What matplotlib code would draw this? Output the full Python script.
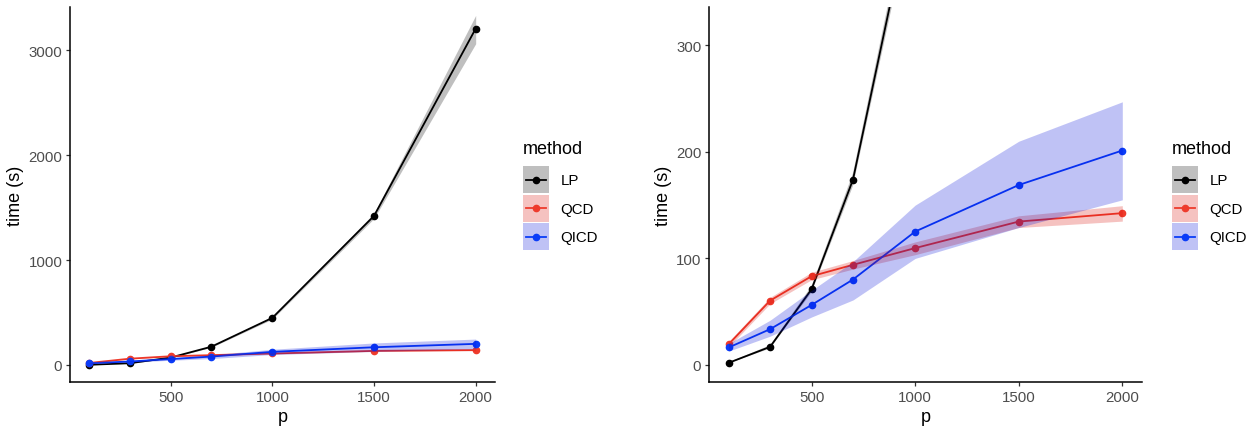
import matplotlib
matplotlib.use("Agg")
import matplotlib.pyplot as plt
from matplotlib.patches import Rectangle
from matplotlib.lines import Line2D
from matplotlib.legend_handler import HandlerBase

plt.rcParams["font.family"] = ["Liberation Sans", "DejaVu Sans"]

# dados
p = [100, 300, 500, 700, 1000, 1500, 2000]
methods = ["LP", "QCD", "QICD"]

lp = [2, 17, 71, 174, 449, 1420, 3204]
lp_lo = [1.5, 15.5, 68, 168, 437, 1395, 3060]
lp_hi = [2.5, 18.5, 74, 180, 461, 1445, 3330]

qcd = [19.5, 60.4, 83.3, 94, 109.7, 134.6, 142.5]
qcd_lo = [17, 57.5, 80, 90, 103.5, 129, 135]
qcd_hi = [22, 63.5, 87, 98, 115.5, 140, 149.5]

qicd = [16.4, 33.6, 56.3, 80.2, 125.2, 168.9, 201.3]
qicd_lo = [13, 27, 45, 61, 100, 129, 155]
qicd_hi = [20, 42, 70, 97, 150, 210, 247]

series = {
    "LP": (lp, lp_lo, lp_hi),
    "QCD": (qcd, qcd_lo, qcd_hi),
    "QICD": (qicd, qicd_lo, qicd_hi),
}
line_col = {"LP": "#000000", "QCD": "#EE3B2C", "QICD": "#0A3CF8"}
fill_col = {"LP": (0, 0, 0, 0.25), "QCD": (0.86, 0.05, 0.02, 0.25), "QICD": (0.0, 0.06, 0.85, 0.25)}

W, H = 1251, 427
fig = plt.figure(figsize=(W / 100, H / 100), dpi=100)

tick_fs = 10.8
title_fs = 13


def draw_panel(ax, ylim, yticks):
    for m in methods:
        y, lo, hi = series[m]
        ax.plot(p, y, color=line_col[m], lw=1.3, marker="o", ms=4.5, zorder=2)
    # fitas por cima das linhas, como no original
    for m in methods:
        y, lo, hi = series[m]
        ax.fill_between(p, lo, hi, color=fill_col[m], lw=0, zorder=3)
    ax.set_xlim(5, 2095)
    ax.set_ylim(*ylim)
    ax.set_xticks([500, 1000, 1500, 2000])
    ax.set_yticks(yticks)
    for s in ["top", "right"]:
        ax.spines[s].set_visible(False)
    for s in ["left", "bottom"]:
        ax.spines[s].set_linewidth(1.1)
    ax.tick_params(colors="#333333", labelcolor="#4D4D4D", labelsize=tick_fs,
                   length=3, width=0.9, pad=2.5)
    ax.set_xlabel("p", fontsize=title_fs, labelpad=3)
    ax.set_ylabel("time (s)", fontsize=title_fs, labelpad=3)


ax1 = fig.add_axes([70 / W, (H - 383) / H, 425 / W, 375 / H])
draw_panel(ax1, (-162, 3410), [0, 1000, 2000, 3000])

ax2 = fig.add_axes([709 / W, (H - 383) / H, 433 / W, 375 / H])
draw_panel(ax2, (-16, 336), [0, 100, 200, 300])


# chave da legenda: caixa da fita + linha com ponto no centro
class Key:
    def __init__(self, fc, lc):
        self.fc = fc
        self.lc = lc


class KeyHandler(HandlerBase):
    def create_artists(self, legend, h, xdescent, ydescent, width, height, fontsize, trans):
        x0, y0 = -xdescent, -ydescent
        yc = y0 + height / 2
        rect = Rectangle((x0, y0), width, height, facecolor=h.fc, edgecolor="none", transform=trans)
        ln = Line2D([x0 + 2, x0 + width - 2], [yc, yc], color=h.lc, lw=1.3, transform=trans)
        pt = Line2D([x0 + width / 2], [yc], color=h.lc, marker="o", ms=4.5, lw=0, transform=trans)
        return [rect, ln, pt]


def add_legend(x_px):
    handles = [Key(fill_col[m], line_col[m]) for m in methods]
    leg = fig.legend(handles, methods, loc="upper left",
                     bbox_to_anchor=(x_px / W, 1 - 141 / H),
                     handler_map={Key: KeyHandler()},
                     frameon=False, fontsize=tick_fs, title="method",
                     title_fontsize=title_fs, handlelength=1.75, handleheight=2.4,
                     labelspacing=0.1, handletextpad=0.75, borderpad=0,
                     borderaxespad=0, alignment="left")
    leg._legend_box.sep = 6.5
    return leg


add_legend(523)
add_legend(1172)

fig.savefig("out.png", dpi=100)
